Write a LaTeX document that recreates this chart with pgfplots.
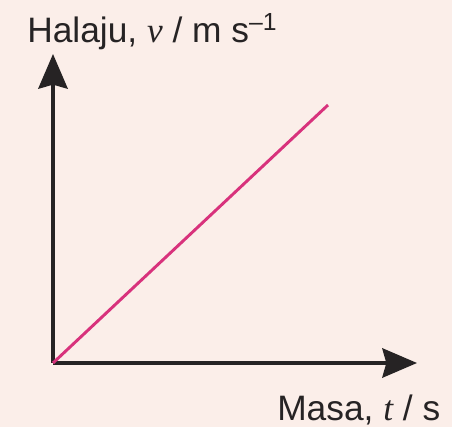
\documentclass[border=0pt]{standalone}
\usepackage{pgfplots}
\pgfplotsset{compat=1.18}
\usetikzlibrary{arrows.meta}
\usepackage{fontspec}
\setmainfont{Liberation Sans}
\newfontfamily\serifit{Liberation Serif}
\definecolor{bg}{HTML}{FBEEE9}
\definecolor{mag}{HTML}{D8327C}
\definecolor{ax}{HTML}{262324}
\begin{document}
\begin{tikzpicture}[x=0.75pt,y=0.75pt]
\fill[bg] (0,0) rectangle (452,427);
\begin{axis}[
  at={(53*0.75pt,64*0.75pt)}, anchor=origin,
  scale only axis, width=364*0.75pt, height=309*0.75pt,
  xmin=0, xmax=364, ymin=0, ymax=309,
  axis x line=bottom, axis y line=left,
  axis line style={ax, line width=2.6pt, -{Stealth[length=26pt,width=22pt,inset=3pt]}},
  xtick=\empty, ytick=\empty,
  clip=false,
]
\addplot[mag, line width=2.2pt] coordinates {(0,0) (275,258)};
\node[anchor=base west, inner sep=0pt, font=\fontsize{26.5}{30}\selectfont, text=ax] at (axis cs:-26,320) {Halaju, {\serifit\itshape v} / m s\textsuperscript{–1}};
\node[anchor=base west, inner sep=0pt, font=\fontsize{26.5}{30}\selectfont, text=ax] at (axis cs:224,-57) {Masa, {\serifit\itshape t} / s};
\end{axis}
\end{tikzpicture}
\end{document}
